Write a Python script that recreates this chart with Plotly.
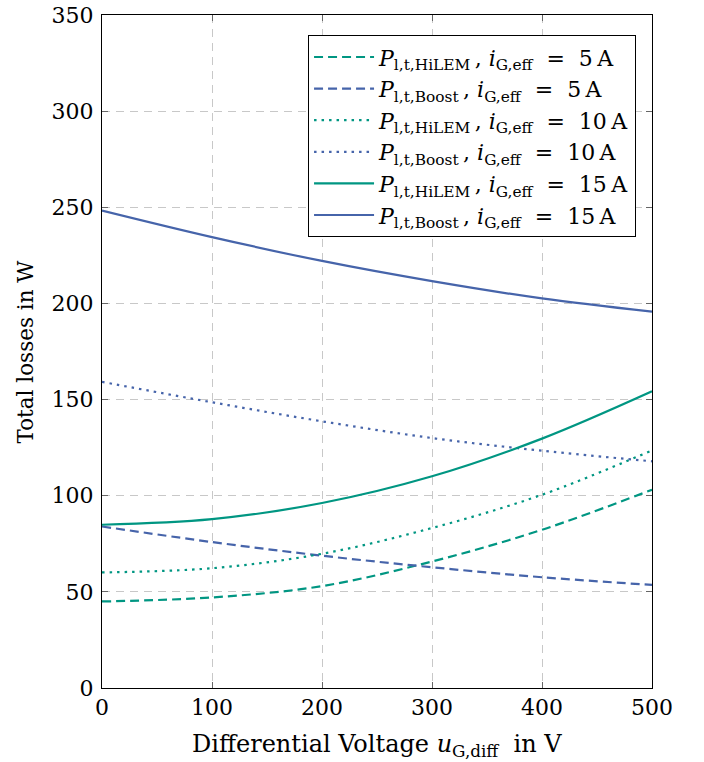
import plotly.graph_objects as go

voltage = [0, 100, 200, 300, 400, 500]
hilem_5 = [45.0, 47.1, 53.0, 65.8, 82.3, 103.1]
boost_5 = [84.0, 75.9, 68.8, 62.8, 57.6, 53.6]
hilem_10 = [60.1, 62.3, 69.8, 83.2, 100.5, 123.6]
boost_10 = [159.2, 148.6, 138.7, 130.0, 123.4, 117.9]
hilem_15 = [84.9, 87.8, 96.2, 110.1, 129.7, 154.3]
boost_15 = [248.3, 234.5, 222.1, 211.6, 202.6, 195.7]

x_ticks = [0, 100, 200, 300, 400, 500]
y_ticks = [0, 50, 100, 150, 200, 250, 300, 350]

TEAL = "#009682"
BLUE = "#4664AA"

def name(kind, cur):
    return (f"<i>P</i><sub>l,t,{kind}</sub>&#8201;,&nbsp;<i>i</i><sub>G,eff</sub>"
            f"&nbsp;&nbsp;=&nbsp;&nbsp;{cur}&#8201;A")

series = [
    ("HiLEM", 5, hilem_5, TEAL, "9px,5px"),
    ("Boost", 5, boost_5, BLUE, "9px,5px"),
    ("HiLEM", 10, hilem_10, TEAL, "2.5px,5px"),
    ("Boost", 10, boost_10, BLUE, "2.5px,5px"),
    ("HiLEM", 15, hilem_15, TEAL, "solid"),
    ("Boost", 15, boost_15, BLUE, "solid"),
]

fig = go.Figure()
for kind, cur, vals, col, dash in series:
    fig.add_trace(go.Scatter(
        x=voltage, y=vals, mode="lines", name=name(kind, cur),
        line=dict(color=col, width=2.2, dash=dash, shape="spline", smoothing=1.0),
    ))

font = "DejaVu Serif, Liberation Serif, serif"
fig.update_layout(
    width=704, height=762,
    margin=dict(l=102, r=52, t=15, b=74, autoexpand=False),
    paper_bgcolor="white", plot_bgcolor="white",
    font=dict(family=font, size=21, color="black"),
    showlegend=True,
    legend=dict(
        x=0.971, y=0.970, xanchor="right", yanchor="top",
        bgcolor="white", bordercolor="black", borderwidth=1,
        font=dict(family=font, size=22), tracegroupgap=0,
        itemwidth=60,
    ),
)
fig.update_xaxes(
    range=[0, 500], tickvals=x_ticks, ticktext=[str(v) for v in x_ticks],
    showgrid=True, gridcolor="#c8c8c8", griddash="8px,6px", gridwidth=1,
    showline=True, linecolor="black", linewidth=1, mirror="ticks",
    ticks="inside", ticklen=6, tickcolor="#666666",
    zeroline=False, automargin=False,
    tickfont=dict(size=22),
)
fig.update_yaxes(
    range=[0, 350], tickvals=y_ticks, ticktext=[str(v) for v in y_ticks],
    showgrid=True, gridcolor="#c8c8c8", griddash="8px,6px", gridwidth=1,
    showline=True, linecolor="black", linewidth=1, mirror="ticks",
    ticks="inside", ticklen=6, tickcolor="#666666",
    zeroline=False, automargin=False, ticklabelstandoff=3,
    tickfont=dict(size=22),
)
fig.add_annotation(
    text="Differential Voltage <i>u</i><sub>G,diff</sub>&nbsp;&nbsp;in V",
    xref="paper", yref="paper", x=0.5, y=0, yshift=-57,
    xanchor="center", yanchor="middle", showarrow=False,
    font=dict(family=font, size=24),
)
fig.add_annotation(
    text="Total losses in W",
    xref="paper", yref="paper", x=0, y=0.5, xshift=-77,
    xanchor="center", yanchor="middle", showarrow=False, textangle=-90,
    font=dict(family=font, size=21.5),
)

# remove the default 8px body margin so the figure sits at the window's corner
fig.write_html("out.html", config={"displayModeBar": False},
               post_script="document.body.style.margin='0px';")
